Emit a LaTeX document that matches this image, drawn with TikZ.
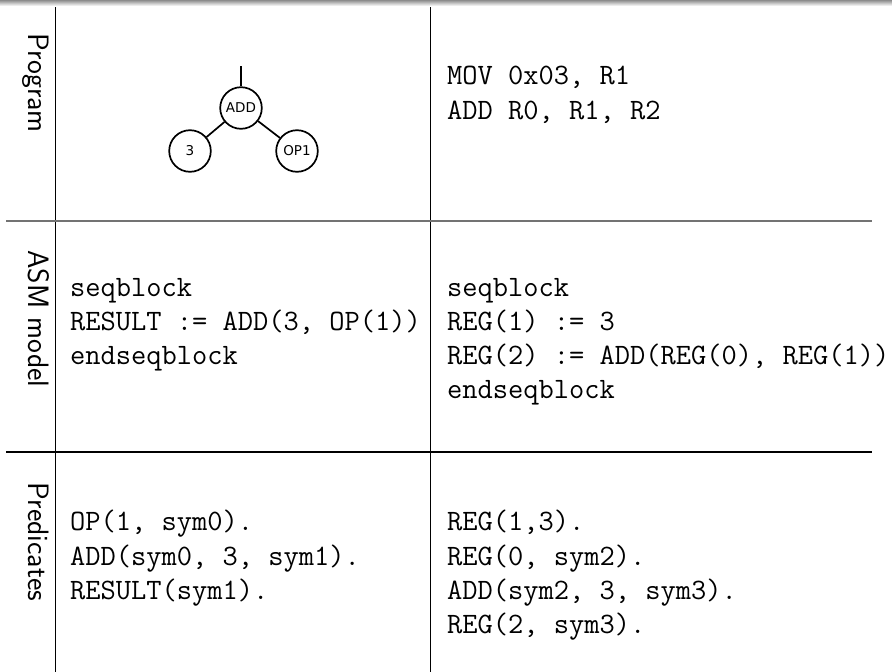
\documentclass[tikz,border=0pt]{standalone}
\usepackage{fontspec}
\newfontfamily\treefont{DejaVu Sans}
\tikzset{
  code/.style={anchor=base west, inner sep=0pt, font=\ttfamily\fontsize{29.6}{35}\selectfont},
  lab/.style={anchor=base west, inner sep=0pt, rotate=-90, font=\sffamily\fontsize{29.5}{35}\selectfont},
  tnode/.style={circle, draw, line width=1.7pt, minimum size=41.6pt, inner sep=0pt, font=\treefont\fontsize{13.5}{15}\selectfont},
  tedge/.style={line width=1.7pt},
  vline/.style={line width=0.9pt},
}
\begin{document}
\begin{tikzpicture}[x=1pt,y=-1pt]
\useasboundingbox (0,0) rectangle (892,672);
\shade[top color=black!45, bottom color=white] (0,0) rectangle (892,6);
% grid
\draw[vline] (55,7) -- (55,672);
\draw[vline] (430,7) -- (430,672);
\draw[line width=1.6pt, black!55] (6,221) -- (872,221);
\draw[line width=1.3pt, black] (6,452) -- (872,452);
% labels
\node[lab] (lprog) at (28,33) {Program};
\node[lab] (lasm) at (28,250) {ASM model};
\node[lab] (lpred) at (28,482) {Predicates};
% tree
\node[tnode] (add) at (241,108) {ADD};
\node[tnode] (three) at (190,151) {3};
\node[tnode] (op1) at (297,151) {OP1};
\coordinate (top) at (241,66);
\draw[tedge] (top) -- (add);
\draw[tedge] (add) -- (three);
\draw[tedge] (add) -- (op1);
% program
\node[code] (p1) at (447,84.5) {MOV 0x03, R1};
\node[code] (p2) at (447,119) {ADD R0, R1, R2};
% asm
\node[code] (a1) at (70,296) {seqblock};
\node[code] (a2) at (70,330.5) {RESULT := ADD(3, OP(1))};
\node[code] (a3) at (70,364.5) {endseqblock};
\node[code] (b1) at (447,296) {seqblock};
\node[code] (b2) at (447,330.5) {REG(1) := 3};
\node[code] (b3) at (447,364.5) {REG(2) := ADD(REG(0), REG(1))};
\node[code] (b4) at (447,398.5) {endseqblock};
% predicates
\node[code] (c1) at (70,530.5) {OP(1, sym0).};
\node[code] (c2) at (70,565) {ADD(sym0, 3, sym1).};
\node[code] (c3) at (70,599) {RESULT(sym1).};
\node[code] (d1) at (447,530.5) {REG(1,3).};
\node[code] (d2) at (447,565) {REG(0, sym2).};
\node[code] (d3) at (447,599) {ADD(sym2, 3, sym3).};
\node[code] (d4) at (447,633) {REG(2, sym3).};
\end{tikzpicture}
\end{document}
